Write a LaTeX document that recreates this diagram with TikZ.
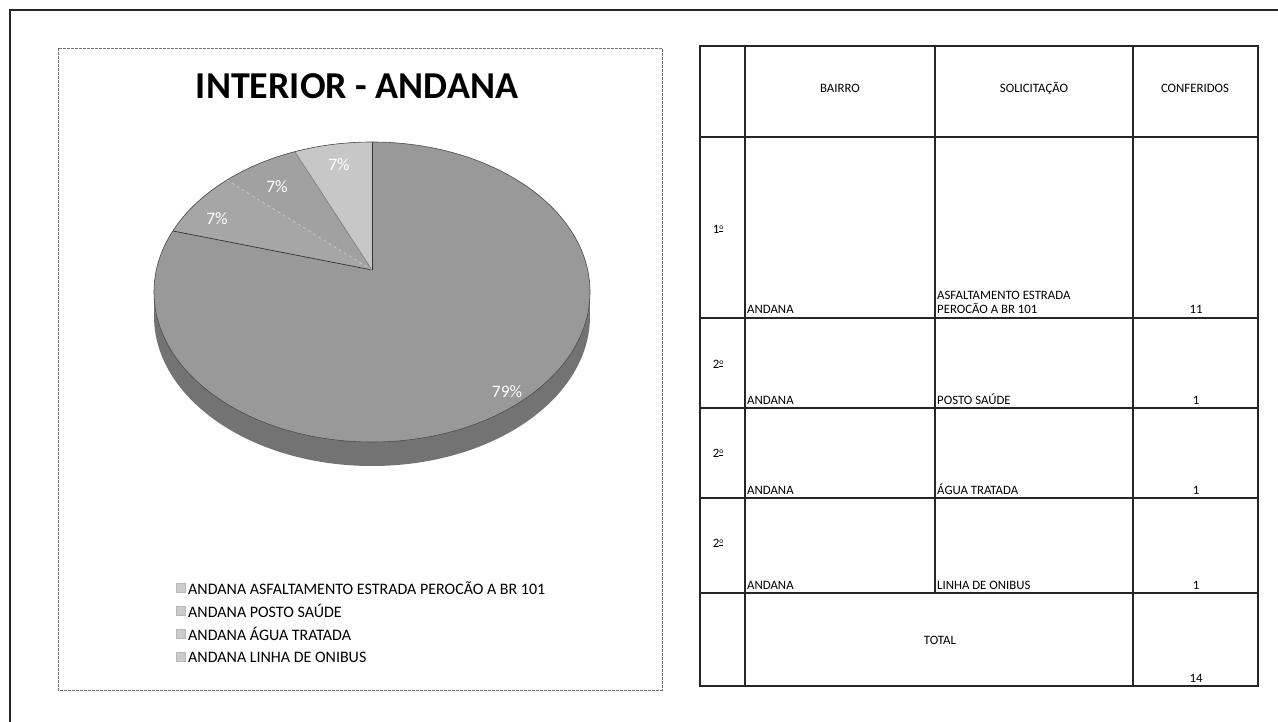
\documentclass[tikz,border=0pt]{standalone}
\usepackage{fontspec}
\setmainfont{Carlito}
\newcommand{\ordo}{\raisebox{0.55ex}{\fontsize{7.5}{8}\selectfont\underline{o}}}
\begin{document}
\begin{tikzpicture}[x=1pt,y=-1pt,
  tline/.style={draw=black!85, line width=1.4pt},
  cell/.style={font=\fontsize{12.8}{14}\selectfont, inner sep=0pt},
  leg/.style={font=\fontsize{16}{18}\selectfont, anchor=west, inner sep=0pt},
  legbox/.style={fill=black!20, draw=black!28, line width=0.4pt},
  pct/.style={text=white, font=\fontsize{17.5}{20}\selectfont, inner sep=0pt},
  sep/.style={line width=0.7pt}]
\useasboundingbox (0,0) rectangle (1278,722);
\fill[white] (0,0) rectangle (1278,722);
% outer frame
\draw[line width=2.6pt, black!85] (10,722) -- (10,10) -- (1278,10);
% chart frame
\draw[black!55, line width=0.8pt, dash pattern=on 3pt off 1pt] (58,48) rectangle (662,690);
\node[font=\fontsize{38}{44}\selectfont\bfseries, inner sep=0pt] (title) at (357,86) {INTERIOR - ANDANA};
% pie side
\fill[black!55] (154,292) rectangle (590,316);
\fill[black!55] (372,316) ellipse [x radius=218, y radius=150];
% top face
\fill[black!40] (372,292) ellipse [x radius=218, y radius=150];
\coordinate (apex) at (372,270);
\fill[black!35] (apex) -- plot[domain=204.1:228.3, samples=20] ({372+218*cos(\x)},{292+150*sin(\x)}) -- cycle;
\fill[black!37] (apex) -- plot[domain=228.3:249.3, samples=20] ({372+218*cos(\x)},{292+150*sin(\x)}) -- cycle;
\fill[black!22] (apex) -- plot[domain=249.3:270, samples=20] ({372+218*cos(\x)},{292+150*sin(\x)}) -- cycle;
\coordinate (b1) at (173,231);
\coordinate (b2) at (227,180);
\coordinate (b3) at (295,152);
\coordinate (b4) at (372,142);
\draw[sep, black!80] (apex) -- (b1);
\draw[sep, black!20, dashed] (apex) -- (b2);
\draw[sep, black!50] (apex) -- (b3);
\draw[sep, black!80] (apex) -- (b4);
\draw[black!70, line width=0.6pt] (372,292) ellipse [x radius=218, y radius=150];
\node[pct] (p1) at (507,392) {79\%};
\node[pct] (p2) at (217,219) {7\%};
\node[pct] (p3) at (277,187) {7\%};
\node[pct] (p4) at (339,165) {7\%};
% legend
\foreach \y/\n/\t in {588/l1/ANDANA ASFALTAMENTO ESTRADA PEROCÃO A BR 101,
                     611/l2/ANDANA POSTO SAÚDE,
                     634/l3/ANDANA ÁGUA TRATADA,
                     657/l4/ANDANA LINHA DE ONIBUS}{
  \draw[legbox] (176,\y-4.5) rectangle (185,\y+4.5);
  \node[leg] (\n) at (188,\y) {\t};
}
% table
\draw[tline] (700,46) rectangle (1258,686);
\foreach \y in {137,318,408,498,593}{ \draw[tline] (700,\y) -- (1258,\y); }
\draw[tline] (745,46) -- (745,686);
\draw[tline] (935,46) -- (935,593);
\draw[tline] (1133,46) -- (1133,686);
\node[cell] (h1) at (840,88) {BAIRRO};
\node[cell] (h2) at (1034,88) {SOLICITAÇÃO};
\node[cell] (h3) at (1195,88) {CONFERIDOS};
\node[cell] (r1) at (718,229) {1\ordo};
\node[cell] (r2) at (718,364) {2\ordo};
\node[cell] (r3) at (718,453) {2\ordo};
\node[cell] (r4) at (718,543) {2\ordo};
\node[cell, anchor=base west] (a1) at (747,314) {ANDANA};
\node[cell, anchor=base west] (a2) at (747,404) {ANDANA};
\node[cell, anchor=base west] (a3) at (747,494) {ANDANA};
\node[cell, anchor=base west] (a4) at (747,589) {ANDANA};
\node[cell, anchor=base west] (s1a) at (937,300) {ASFALTAMENTO ESTRADA};
\node[cell, anchor=base west] (s1) at (937,314) {PEROCÃO A BR 101};
\node[cell, anchor=base west] (s2) at (937,404) {POSTO SAÚDE};
\node[cell, anchor=base west] (s3) at (937,494) {ÁGUA TRATADA};
\node[cell, anchor=base west] (s4) at (937,589) {LINHA DE ONIBUS};
\node[cell, anchor=base] (c1) at (1196,314) {11};
\node[cell, anchor=base] (c2) at (1196,404) {1};
\node[cell, anchor=base] (c3) at (1196,494) {1};
\node[cell, anchor=base] (c4) at (1196,589) {1};
\node[cell] (tot) at (940,640) {TOTAL};
\node[cell, anchor=base] (ctot) at (1196,682) {14};
\end{tikzpicture}
\end{document}
